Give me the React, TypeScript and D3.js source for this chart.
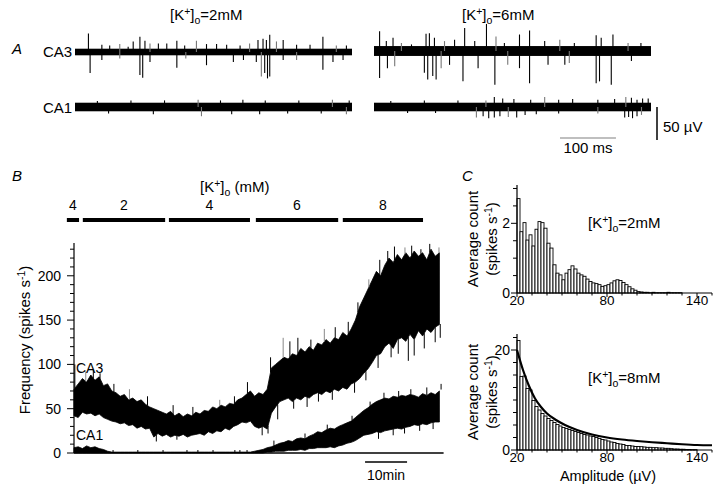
import React from 'react';
import * as d3 from 'd3';

const FONT = '"Liberation Sans", Arial, Helvetica, sans-serif';

// ---------------- Panel A : raw traces ----------------
const A_DURATION_MS = 495;
const A_SCALE_MS = 100;
const A_SCALE_UV = 50;
// [time (ms), amplitude (µV)]
const A_L_CA3_UP: [number, number][] = [
  [24, 28], [48, 11], [62, 10], [80, 12], [95, 8], [104, 16], [116, 23], [125, 17], [134, 13], [149, 13],
  [164, 13], [182, 17], [196, 10], [217, 17], [235, 12], [253, 12], [271, 11], [295, 10], [312, 13],
  [327, 18], [336, 20], [342, 18], [348, 26], [360, 16], [372, 18], [396, 11], [420, 11], [443, 23],
  [467, 10], [485, 10],
];
const A_L_CA3_DOWN: [number, number][] = [
  [27, 32], [48, 12], [80, 10], [116, 35], [121, 39], [134, 15], [182, 24], [198, 10], [235, 20],
  [283, 15], [301, 12], [324, 15], [333, 37], [339, 32], [344, 40], [348, 37], [372, 12], [396, 12],
  [443, 27], [461, 15], [479, 12],
];
const A_L_CA1_UP: [number, number][] = [
  [40, 9], [100, 10], [160, 10], [220, 11], [260, 10], [300, 11], [340, 10], [400, 10], [460, 11], [490, 10],
];
const A_L_CA1_DOWN: [number, number][] = [
  [60, 10], [140, 11], [226, 14], [280, 11], [330, 11], [380, 10], [440, 10], [485, 11],
];
const A_R_CA3_UP: [number, number][] = [
  [10, 30], [22, 15], [34, 20], [49, 12], [67, 10], [93, 26], [99, 27], [108, 20], [126, 15], [144, 17],
  [162, 35], [180, 15], [201, 41], [218, 22], [233, 12], [260, 25], [278, 31], [305, 15], [332, 17],
  [358, 12], [397, 24], [406, 20], [427, 25], [454, 12], [477, 12],
];
const A_R_CA3_DOWN: [number, number][] = [
  [10, 41], [24, 26], [37, 23], [90, 33], [96, 43], [105, 38], [111, 43], [120, 26], [135, 21], [159, 46],
  [186, 26], [216, 51], [239, 21], [260, 26], [278, 49], [311, 21], [341, 21], [349, 18], [397, 49],
  [403, 46], [424, 51], [460, 15],
];
const A_R_CA1_UP: [number, number][] = [
  [30, 9], [90, 10], [150, 10], [200, 10], [215, 15], [230, 13], [250, 12], [280, 11], [305, 15], [330, 11],
  [355, 12], [400, 11], [430, 12], [450, 15], [460, 14], [470, 11], [480, 13], [490, 13],
];
const A_R_CA1_DOWN: [number, number][] = [
  [60, 9], [110, 9], [183, 16], [195, 14], [205, 17], [215, 16], [225, 14], [240, 15], [255, 16], [270, 12],
  [290, 11], [330, 10], [400, 10], [448, 16], [455, 15], [462, 17], [470, 14], [478, 12],
];

// ---------------- Panel B : frequency vs time (1-min bins) ----------------
const B_STEP_MIN = 1;
const B_CA3_UPPER = [
  72, 78, 84, 80, 88, 82, 86, 76, 78, 70,
  68, 64, 66, 60, 62, 58, 60, 55, 52, 50,
  48, 46, 44, 47, 42, 45, 41, 44, 42, 46,
  44, 48, 47, 52, 50, 54, 52, 56, 55, 60,
  62, 66, 70, 64, 68, 66, 72, 96, 100, 104,
  108, 106, 112, 110, 118, 114, 120, 116, 124, 122,
  128, 124, 130, 128, 136, 132, 140, 150, 165, 175,
  185, 195, 205, 200, 212, 220, 215, 224, 218, 226,
  220, 228, 222, 226, 218, 230, 222, 226,
];
const B_CA3_LOWER = [
  42, 40, 46, 44, 45, 42, 44, 40, 38, 36,
  35, 33, 34, 31, 32, 28, 30, 27, 28, 18,
  22, 19, 21, 18, 20, 19, 21, 18, 20, 21,
  22, 20, 24, 22, 25, 24, 28, 26, 30, 32,
  35, 34, 36, 30, 28, 30, 27, 45, 52, 58,
  60, 62, 58, 62, 60, 64, 62, 66, 68, 66,
  70, 68, 72, 70, 74, 72, 78, 80, 84, 90,
  95, 102, 110, 112, 120, 124, 118, 128, 130, 126,
  134, 128, 138, 132, 140, 136, 142, 145,
];
const B_CA1_UPPER = [
  6, 7, 5, 8, 6, 7, 5, 4, 2, 1,
  1, 1, 1, 1, 1, 1, 1, 1, 1, 1,
  1, 1, 1, 1, 1, 1, 1, 1, 1, 1,
  1, 1, 1, 1, 1, 1, 1, 1, 1, 1,
  1, 1, 1, 2, 3, 4, 6, 7, 9, 11,
  12, 14, 13, 16, 17, 16, 19, 21, 24, 23,
  26, 28, 27, 30, 32, 34, 36, 40, 44, 48,
  51, 55, 58, 60, 62, 61, 64, 63, 65, 64,
  66, 65, 63, 67, 65, 68, 66, 70,
];
const B_CA1_LOWER = [
  0, 0, 0, 0, 0, 0, 0, 0, 0, 0,
  0, 0, 0, 0, 0, 0, 0, 0, 0, 0,
  0, 0, 0, 0, 0, 0, 0, 0, 0, 0,
  0, 0, 0, 0, 0, 0, 0, 0, 0, 0,
  0, 0, 0, 0, 0, 0, 1, 1, 2, 2,
  2, 3, 3, 3, 4, 3, 5, 5, 6, 6,
  6, 7, 6, 8, 9, 11, 12, 14, 17, 20,
  21, 22, 24, 23, 25, 26, 27, 28, 27, 29,
  30, 32, 31, 33, 32, 34, 35, 35,
];
// [time (min), value]
const B_CA3_SPIKES_UP: [number, number][] = [
  [0.2, 100], [2.8, 92], [4.6, 94], [6.2, 90], [9.5, 78], [13.2, 72], [17.5, 64], [23.6, 54], [28.3, 52],
  [34.7, 60], [38.2, 64], [41.3, 80], [46.8, 108], [49.8, 130], [51.4, 126], [53.3, 130], [56.4, 128],
  [59.6, 140], [62.2, 142], [65.3, 148], [67.6, 170], [70.2, 196], [72.8, 218], [74.7, 228], [76.3, 233],
  [78.8, 232], [80.4, 234], [82.6, 230], [84.7, 236], [86.9, 232],
];
const B_CA3_SPIKES_DOWN: [number, number][] = [
  [19.6, 13], [24.5, 15], [44.8, 20], [46.2, 22], [48.5, 38], [52.3, 50], [55.5, 52], [58.2, 58],
  [61.5, 60], [66.8, 68], [69.5, 82], [72.4, 96], [75.5, 108], [77.2, 112], [79.6, 104], [81, 110],
  [83.4, 118], [86, 125], [87.2, 130],
];
const B_CA1_SPIKES_UP: [number, number][] = [
  [47.6, 14], [55, 22], [60.3, 32], [66.2, 42], [70.5, 58], [73.8, 68], [77.3, 70], [80.2, 72], [84, 74], [87.4, 78],
];
const B_CA1_SPIKES_DOWN: [number, number][] = [
  [72.5, 16], [76, 20], [78.7, 22], [82.3, 25], [85.5, 27],
];
const B_CONC_LABELS = ['4', '2', '4', '6', '8'];
const B_CONC_START = [-1.7, 2.1, 22.6, 43.3, 64];
const B_CONC_END = [1.2, 21.7, 41.9, 62.9, 83.1];
const B_Y_TICKS = [0, 50, 100, 150, 200];
const B_MARKS = [0.7, 9.3, 15.2, 21.2, 26.9, 29.5, 33.1, 38.3, 39.5, 41.2];
const B_SCALE_MIN = 10;

// ---------------- Panel C : amplitude histograms (2 µV bins from 20 µV) ----------------
const C_BIN_START = 20;
const C_BIN_WIDTH = 2;
const C_TOP_COUNTS = [
  2.71, 1.76, 2.02, 1.52, 1.67, 1.35, 1.83, 2.05, 2.02, 1.86,
  1.43, 1.29, 0.81, 0.57, 0.52, 0.38, 0.57, 0.67, 0.78, 0.69,
  0.57, 0.52, 0.48, 0.40, 0.33, 0.29, 0.27, 0.24, 0.19, 0.21,
  0.24, 0.29, 0.35, 0.38, 0.36, 0.30, 0.24, 0.18, 0.12, 0.08,
  0.04, 0.03, 0.02, 0.02, 0.01, 0.02, 0.01, 0.01, 0.01, 0.01,
  0.02, 0.01, 0.01, 0.01, 0.01,
];
const C_BOT_COUNTS = [
  21.9, 14.7, 14.8, 12.3, 12.0, 9.9, 8.7, 8.0, 7.3, 6.8,
  6.3, 5.9, 5.5, 5.1, 4.8, 4.5, 4.3, 4.1, 3.9, 3.7,
  3.5, 3.3, 3.1, 3.0, 2.8, 2.7, 2.5, 2.3, 2.1, 2.0,
  1.8, 1.6, 1.5, 1.3, 1.2, 1.1, 0.9, 0.9, 0.8, 0.7,
  0.7, 0.67, 0.6, 0.53, 0.53, 0.47, 0.47, 0.4, 0.4, 0.33,
  0.33, 0.27, 0.2, 0.2, 0.15, 0.15, 0.1, 0.1, 0.08, 0.08,
];
const C_FIT_X = [20, 24, 28, 32, 36, 40, 46, 52, 60, 70, 80, 90, 100, 110, 120, 130, 140, 150];
const C_FIT_Y = [20, 16, 12.8, 10.3, 8.6, 7.3, 6, 5, 4, 3.1, 2.5, 2.1, 1.8, 1.55, 1.35, 1.15, 1.0, 0.95];
const C_X_LABELS = [20, 80, 140];
const C_TOP_Y_LABELS = [0, 2];
const C_BOT_Y_LABELS = [0, 20];

function KLabel({ x, y, value, anchor = 'start', size = 15 }: any) {
  return (
    <text x={x} y={y} fontSize={size} fontFamily={FONT} textAnchor={anchor}>
      <tspan>[K</tspan>
      <tspan dy={-5} fontSize={size * 0.7}>+</tspan>
      <tspan dy={5}>]</tspan>
      <tspan dy={4} fontSize={size * 0.7}>o</tspan>
      <tspan dy={-4}>{value}</tspan>
    </text>
  );
}

function Trace({ x0, y0, noise, up, down }: any) {
  const xs = d3.scaleLinear().domain([0, A_DURATION_MS]).range([0, 277]);
  const ys = d3.scaleLinear().domain([0, A_SCALE_UV]).range([0, 33]);
  return (
    <g transform={`translate(${x0},${y0})`}>
      <rect x={0} y={-ys(noise)} width={xs(A_DURATION_MS)} height={2 * ys(noise)} fill="#000" />
      {up.map(([t, a]: number[], i: number) => (
        <line key={'u' + i} x1={xs(t)} x2={xs(t)} y1={0} y2={-ys(a)} stroke={i % 5 === 3 ? '#777' : '#000'} strokeWidth={1.1} />
      ))}
      {down.map(([t, a]: number[], i: number) => (
        <line key={'d' + i} x1={xs(t)} x2={xs(t)} y1={0} y2={ys(a)} stroke={i % 5 === 2 ? '#777' : '#000'} strokeWidth={1.1} />
      ))}
    </g>
  );
}

function PanelA() {
  const xs = d3.scaleLinear().domain([0, A_DURATION_MS]).range([0, 277]);
  const ys = d3.scaleLinear().domain([0, A_SCALE_UV]).range([0, 33]);
  return (
    <g>
      <text x={12} y={54} fontSize={15} fontStyle="italic" fontFamily={FONT}>A</text>
      <KLabel x={170} y={20} value="=2mM" />
      <KLabel x={462} y={20} value="=6mM" />
      <text x={43} y={57} fontSize={15} fontFamily={FONT}>CA3</text>
      <text x={43} y={113} fontSize={15} fontFamily={FONT}>CA1</text>
      <Trace x0={75} y0={52} noise={5} up={A_L_CA3_UP} down={A_L_CA3_DOWN} />
      <Trace x0={75} y0={107} noise={6.5} up={A_L_CA1_UP} down={A_L_CA1_DOWN} />
      <Trace x0={374} y0={51} noise={7.5} up={A_R_CA3_UP} down={A_R_CA3_DOWN} />
      <Trace x0={374} y0={107} noise={6.5} up={A_R_CA1_UP} down={A_R_CA1_DOWN} />
      <line x1={657} x2={657} y1={107} y2={107 + ys(A_SCALE_UV)} stroke="#000" strokeWidth={1.5} />
      <text x={663} y={132} fontSize={15} fontFamily={FONT}>50 µV</text>
      <line x1={560} x2={560 + xs(A_SCALE_MS)} y1={138} y2={138} stroke="#aaa" strokeWidth={1.5} />
      <text x={588} y={153} fontSize={15} fontFamily={FONT} textAnchor="middle">100 ms</text>
    </g>
  );
}

function PanelB() {
  const n = B_CA3_UPPER.length;
  const xB = d3.scaleLinear().domain([0, 88]).range([74, 443.6]);
  const yB = d3.scaleLinear().domain([0, 237]).range([453, 243]);
  const tOf = (i: number) => i * B_STEP_MIN;
  const area = (upper: number[], lower: number[]) =>
    d3.area<number>().x((_, i) => xB(tOf(i))).y0((_, i) => yB(lower[i])).y1((d) => yB(d))(upper) || '';
  const ca3 = area(B_CA3_UPPER, B_CA3_LOWER);
  const ca1 = area(B_CA1_UPPER, B_CA1_LOWER);
  const interp = (arr: number[], t: number) => {
    const i = Math.min(Math.floor(t / B_STEP_MIN), n - 2);
    const f = t / B_STEP_MIN - i;
    return arr[i] * (1 - f) + arr[i + 1] * f;
  };
  const yTicks = d3.range(0, 231, 10);
  return (
    <g>
      <text x={12} y={181} fontSize={15} fontStyle="italic" fontFamily={FONT}>B</text>
      <text x={200} y={192} fontSize={15} fontFamily={FONT}>
        <tspan>[K</tspan>
        <tspan dy={-5} fontSize={10.5}>+</tspan>
        <tspan dy={5}>]</tspan>
        <tspan dy={4} fontSize={10.5}>o</tspan>
        <tspan dy={-4}> (mM)</tspan>
      </text>
      {B_CONC_LABELS.map((lab, i) => (
        <g key={i}>
          <line x1={xB(B_CONC_START[i])} x2={xB(B_CONC_END[i])} y1={220} y2={220} stroke="#000" strokeWidth={4} />
          <text x={xB((B_CONC_START[i] + B_CONC_END[i]) / 2)} y={210} fontSize={14} fontFamily={FONT} textAnchor="middle">{lab}</text>
        </g>
      ))}
      {/* traces */}
      <path d={ca1} fill="#000" stroke="#000" strokeWidth={0.8} />
      {B_CA1_SPIKES_UP.map(([t, v], i) => (
        <line key={'cu' + i} x1={xB(t)} x2={xB(t)} y1={yB(interp(B_CA1_UPPER, t))} y2={yB(v)} stroke="#000" strokeWidth={1} />
      ))}
      {B_CA1_SPIKES_DOWN.map(([t, v], i) => (
        <line key={'cd' + i} x1={xB(t)} x2={xB(t)} y1={yB(interp(B_CA1_LOWER, t))} y2={yB(v)} stroke="#000" strokeWidth={1} />
      ))}
      <path d={ca3} fill="#000" stroke="#000" strokeWidth={0.8} />
      {B_CA3_SPIKES_UP.map(([t, v], i) => (
        <line key={'u' + i} x1={xB(t)} x2={xB(t)} y1={yB(interp(B_CA3_UPPER, t))} y2={yB(v)}
          stroke={i % 4 === 1 ? '#888' : '#000'} strokeWidth={1} />
      ))}
      {B_CA3_SPIKES_DOWN.map(([t, v], i) => (
        <line key={'d' + i} x1={xB(t)} x2={xB(t)} y1={yB(interp(B_CA3_LOWER, t))} y2={yB(v)} stroke="#000" strokeWidth={1} />
      ))}
      {/* axes */}
      <line x1={74} x2={74} y1={yB(0)} y2={yB(237)} stroke="#000" strokeWidth={1.2} />
      {yTicks.map((v) => (
        <line key={v} x1={v % 50 === 0 ? 67 : 70} x2={74} y1={yB(v)} y2={yB(v)} stroke="#000" strokeWidth={1} />
      ))}
      {B_Y_TICKS.map((v) => (
        <text key={v} x={61} y={yB(v) + 5} fontSize={14} fontFamily={FONT} textAnchor="end">{v}</text>
      ))}
      <line x1={74} x2={xB(88)} y1={yB(0)} y2={yB(0)} stroke="#000" strokeWidth={1.5} />
      {B_MARKS.map((t, i) => (
        <line key={i} x1={xB(t)} x2={xB(t)} y1={yB(0)} y2={yB(0) - 3} stroke="#000" strokeWidth={1} />
      ))}
      <text transform={`translate(30,340) rotate(-90)`} fontSize={15} fontFamily={FONT} textAnchor="middle">
        <tspan>Frequency (spikes s</tspan>
        <tspan dy={-5} fontSize={10.5}>-1</tspan>
        <tspan dy={5}>)</tspan>
      </text>
      <text x={76} y={373} fontSize={14} fontFamily={FONT}>CA3</text>
      <text x={76} y={440} fontSize={14} fontFamily={FONT}>CA1</text>
      <line x1={xB(69.3)} x2={xB(69.3 + B_SCALE_MIN)} y1={462} y2={462} stroke="#000" strokeWidth={1.5} />
      <text x={xB(69.3 + B_SCALE_MIN / 2)} y={480} fontSize={14} fontFamily={FONT} textAnchor="middle">10min</text>
    </g>
  );
}

function Histogram({ counts, yMax, y0, y1, yLabels, minorStep, fit, label, labelY, showXTitle }: any) {
  const xC = d3.scaleLinear().domain([20, 150]).range([517, 712]);
  const yC = d3.scaleLinear().domain([0, yMax]).range([y0, y1]);
  const yTicks = d3.range(0, yMax, minorStep);
  const xTicks = d3.range(20, 151, 10);
  const line = fit
    ? d3.line<number>().x((d) => xC(d)).y((_, i) => yC(C_FIT_Y[i])).curve(d3.curveMonotoneX)(C_FIT_X) || ''
    : '';
  return (
    <g>
      {counts.map((c: number, i: number) => {
        const a = C_BIN_START + i * C_BIN_WIDTH;
        return (
          <rect key={i} x={xC(a)} y={yC(c)} width={xC(a + C_BIN_WIDTH) - xC(a)} height={y0 - yC(c)}
            fill="#fff" stroke="#000" strokeWidth={0.9} />
        );
      })}
      {fit && <path d={line} fill="none" stroke="#000" strokeWidth={2.2} />}
      <line x1={517} x2={517} y1={y0} y2={y1} stroke="#000" strokeWidth={1.2} />
      {yTicks.map((v: number) => (
        <line key={v} x1={yLabels.includes(v) ? 511 : 513} x2={517} y1={yC(v)} y2={yC(v)} stroke="#000" strokeWidth={1} />
      ))}
      {yLabels.map((v: number) => (
        <text key={v} x={510} y={yC(v) + 5} fontSize={14} fontFamily={FONT} textAnchor="end">{v}</text>
      ))}
      <line x1={517} x2={712} y1={y0} y2={y0} stroke="#000" strokeWidth={1.2} />
      {xTicks.map((v: number) => (
        <line key={v} x1={xC(v)} x2={xC(v)} y1={y0} y2={y0 + (C_X_LABELS.includes(v) ? 4 : 2.5)} stroke="#000" strokeWidth={1} />
      ))}
      {C_X_LABELS.map((v) => (
        <text key={v} x={xC(v)} y={y0 + 12} fontSize={13.5} fontFamily={FONT} textAnchor="middle">{v}</text>
      ))}
      <KLabel x={588} y={labelY} value={label} />
      <text transform={`translate(478,${(y0 + y1) / 2}) rotate(-90)`} fontSize={15} fontFamily={FONT} textAnchor="middle">
        Average count
      </text>
      <text transform={`translate(497,${(y0 + y1) / 2}) rotate(-90)`} fontSize={15} fontFamily={FONT} textAnchor="middle">
        <tspan>(spikes s</tspan>
        <tspan dy={-5} fontSize={10.5}>-1</tspan>
        <tspan dy={5}>)</tspan>
      </text>
      {showXTitle && (
        <text x={608} y={481} fontSize={14.5} fontFamily={FONT} textAnchor="middle">Amplitude (µV)</text>
      )}
    </g>
  );
}

function PanelC() {
  return (
    <g>
      <text x={462} y={181} fontSize={15} fontStyle="italic" fontFamily={FONT}>C</text>
      <Histogram counts={C_TOP_COUNTS} yMax={3.1} y0={293} y1={185} yLabels={C_TOP_Y_LABELS} minorStep={0.5}
        fit={false} label="=2mM" labelY={228} showXTitle={false} />
      <Histogram counts={C_BOT_COUNTS} yMax={23.2} y0={450} y1={334} yLabels={C_BOT_Y_LABELS} minorStep={2.5}
        fit={true} label="=8mM" labelY={383} showXTitle={true} />
    </g>
  );
}

export default function App() {
  return (
    <svg width={720} height={489} viewBox="0 0 720 489"
      style={{ position: 'absolute', left: 0, top: 0, background: '#fff' }}>
      <rect width={720} height={489} fill="#fff" />
      <PanelA />
      <PanelB />
      <PanelC />
    </svg>
  );
}
